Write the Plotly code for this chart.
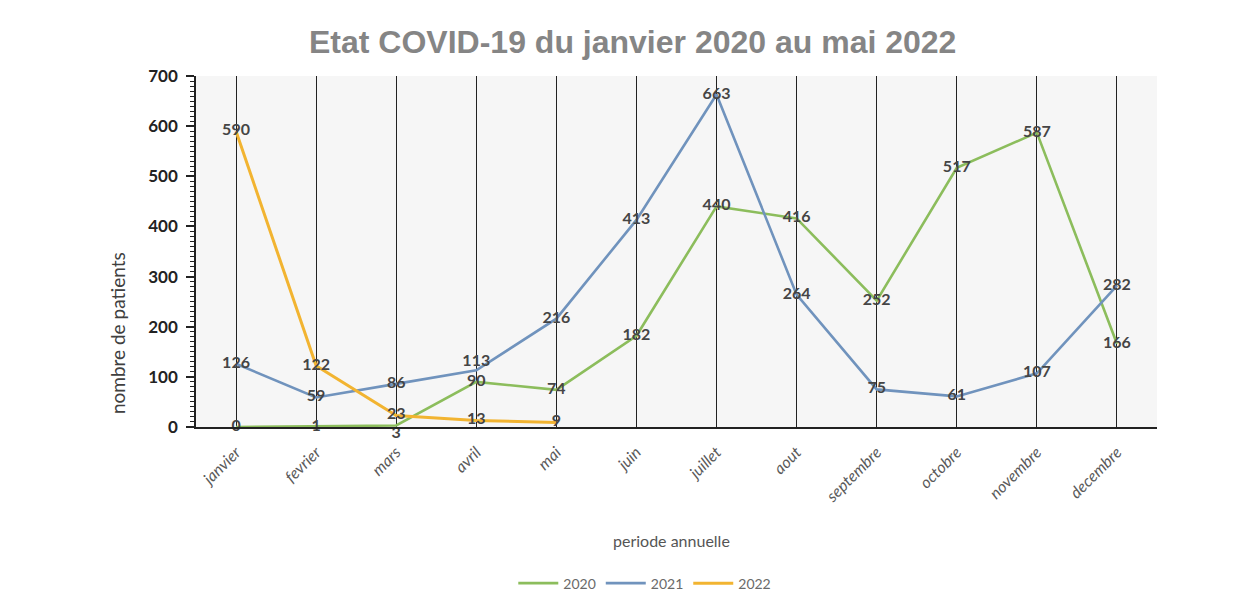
import plotly.graph_objects as go

# Monthly patient counts per year
months = ["janvier", "fevrier", "mars", "avril", "mai", "juin", "juillet",
          "aout", "septembre", "octobre", "novembre", "decembre"]
cases_2020 = [0, 1, 3, 90, 74, 182, 440, 416, 252, 517, 587, 166]
cases_2021 = [126, 59, 86, 113, 216, 413, 663, 264, 75, 61, 107, 282]
cases_2022 = [590, 122, 23, 13, 9]

# label placement: centred on the point, nudged where two labels collide
pos_2020 = ["middle center"] * 12
pos_2020[2] = "bottom center"
pos_2021 = ["middle center"] * 12
pos_2021[3] = "top center"
pos_2022 = ["middle center"] * 5

series = [
    ("2020", cases_2020, pos_2020, "#8cbd5c", 2.6),
    ("2021", cases_2021, pos_2021, "#7093bd", 2.6),
    ("2022", cases_2022, pos_2022, "#f2b431", 3.0),
]

label_font = dict(family="Lato, 'Open Sans', sans-serif", size=16,
                  color="#454545", weight="bold")

fig = go.Figure()
for name, values, positions, color, width in series:
    fig.add_trace(go.Scatter(
        x=months[:len(values)], y=values, name=name,
        mode="lines+text", text=[str(v) for v in values],
        textposition=positions, textfont=label_font,
        line=dict(color=color, width=width),
        cliponaxis=False,
    ))

fig.update_layout(
    width=1253, height=611,
    margin=dict(l=196, r=96, t=76, b=181),
    paper_bgcolor="#ffffff",
    plot_bgcolor="#f6f6f6",
    font=dict(family="Lato, sans-serif", color="#404040"),
    showlegend=True,
    legend=dict(orientation="h", x=0.467, xanchor="center", y=-0.446,
                yanchor="middle", font=dict(size=14, color="#6a6a6a"),
                itemwidth=40, tracegroupgap=0, bgcolor="rgba(0,0,0,0)"),
    xaxis=dict(
        type="category", categoryorder="array", categoryarray=months,
        range=[-0.5, 11.5],
        showgrid=True, gridcolor="#222222", gridwidth=1,
        showline=True, linecolor="#222222", linewidth=1.5,
        ticks="", tickangle=-45, ticklabelstandoff=8,
        tickfont=dict(family="Lato, sans-serif", size=16, color="#5a5a5a",
                      style="italic"),
        zeroline=False,
    ),
    yaxis=dict(
        range=[0, 700], dtick=100,
        showgrid=False, zeroline=False,
        showline=True, linecolor="#222222", linewidth=1.5,
        ticks="outside", ticklen=8, tickcolor="#222222", tickwidth=1.5,
        ticklabelstandoff=5,
        minor=dict(dtick=10, ticks="outside", ticklen=4,
                   tickcolor="#222222", tickwidth=1),
        tickfont=dict(family="Lato, sans-serif", size=17, color="#222222",
                      weight="bold"),
    ),
)

fig.add_annotation(
    text="Etat COVID-19 du janvier 2020 au mai 2022",
    xref="paper", yref="paper", x=0.454, y=1.096,
    xanchor="center", yanchor="middle", showarrow=False,
    font=dict(family="Liberation Sans, Arial, sans-serif", size=32,
              color="#858585", weight="bold"),
)
fig.add_annotation(
    text="nombre de patients", textangle=-90,
    xref="paper", yref="paper", x=-0.081, y=0.268,
    xanchor="center", yanchor="middle", showarrow=False,
    font=dict(family="Lato, sans-serif", size=19, color="#404040"),
)
fig.add_annotation(
    text="periode annuelle",
    xref="paper", yref="paper", x=0.495, y=-0.322,
    xanchor="center", yanchor="middle", showarrow=False,
    font=dict(family="Lato, sans-serif", size=16, color="#555555"),
)

fig.write_html("out.html")
